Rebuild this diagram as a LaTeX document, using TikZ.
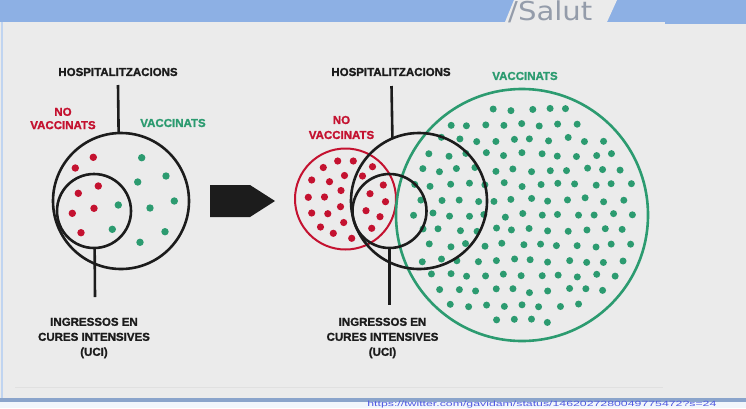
\documentclass[tikz,border=0pt]{standalone}
\usepackage{fontspec}
\setmainfont{Liberation Sans}
\newfontfamily\salutfont{DejaVu Sans}
\newfontfamily\heavyfont{Liberation Sans}[BoldFeatures={FakeBold=1.3}]
\definecolor{bandblue}{RGB}{141,176,228}
\definecolor{panel}{RGB}{235,235,235}
\definecolor{vred}{RGB}{196,18,48}
\definecolor{vgreen}{RGB}{44,155,112}
\definecolor{ink}{RGB}{28,28,28}
\definecolor{salutgray}{RGB}{148,156,170}
\definecolor{urlblue}{RGB}{80,90,225}
\begin{document}
\begin{tikzpicture}[x=1pt,y=-1pt,
  lbl/.style={font=\heavyfont\fontsize{11.5}{15}\selectfont\bfseries, text=ink, inner sep=0pt, align=center},
  ring/.style={circle, draw=ink, line width=2.6pt, inner sep=0pt, outer sep=0pt},
  conn/.style={draw=ink, line width=2.6pt},
  dotr/.style={fill=vred},
  dotg/.style={fill=vgreen}]
\useasboundingbox (0,0) rectangle (746,408);
% background
\fill[panel] (0,0) rectangle (746,408);
\fill[bandblue] (0,0) rectangle (746,22);
\fill[bandblue] (665,22) rectangle (746,23.5);
\fill[panel] (505,22) -- (514,0) -- (617,0) -- (607,22) -- cycle;
\node[text=salutgray, font=\salutfont\fontsize{26}{26}\selectfont, xscale=1.12, inner sep=0pt, anchor=base west] (salut) at (508,20.5) {/Salut};
\draw[bandblue!55, line width=1.2pt] (2,22) -- (2,399);
\draw[black!12, line width=0.8pt] (15,387) -- (663,387);
\fill[bandblue!75!gray] (0,398) rectangle (746,401.5);
\fill[bandblue!12] (0,401.5) rectangle (746,408);
\node[text=urlblue, font=\fontsize{7.5}{7.5}\selectfont, xscale=1.64, inner sep=0pt, anchor=base west] (url) at (367,406.4) {https://twitter.com/gavidam/status/1462027280049775472?s=24};

% ---------- left diagram ----------
\node[lbl] (hospL) at (118,72) {HOSPITALITZACIONS};
\node[lbl, text=vred, font=\heavyfont\fontsize{11.5}{13.3}\selectfont\bfseries] (noL) at (63,118.5) {NO\\VACCINATS};
\node[lbl, text=vgreen] (vacL) at (173,123) {VACCINATS};
\foreach \p in {(93.3,157.3),(75.3,168),(98.3,186),(78.3,193.3),(94,208.3),(72.3,213.3),(81,232.7)}
  \fill[dotr] \p circle (3.7pt);
\foreach \p in {(141.7,157.7),(166,176),(137.7,182),(174.3,201),(118.3,205),(150,208),(112.3,229.3),(165,231.7),(140,242.3)}
  \fill[dotg] \p circle (3.7pt);
\node[ring, minimum size=136pt] (bigL) at (121,201) {};
\node[ring, minimum size=74pt] (smallL) at (94,211) {};
\coordinate (hL) at (118,85);
\coordinate (uL) at (95,297);
\draw[conn] (hL) -- (bigL.92.5);
\draw[conn] (smallL.271.5) -- (uL);
\node[lbl] (uciL) at (94,338) {INGRESSOS EN\\CURES INTENSIVES\\(UCI)};

% ---------- arrow ----------
\fill[ink] (210,185) -- (250,185) -- (275,201) -- (250,217) -- (210,217) -- cycle;

% ---------- right diagram ----------
\node[lbl] (hospR) at (391,72) {HOSPITALITZACIONS};
\node[lbl, text=vred] (noR) at (341.5,127.5) {NO\\VACCINATS};
\node[lbl, text=vgreen] (vacR) at (525,76) {VACCINATS};
\foreach \p in {(337.7,161),(353.3,161),(323.3,167.5),(372.5,166.7),
  (311.7,180),(329.5,181.7),(344.5,175.5),(362.5,176),(383.3,185),(341,190.5),
  (308.3,197.3),(324.5,197),(370,193.7),(385.5,201.7),(340.5,206.7),(366,210.7),
  (311.7,213),(327.8,213.7),(380,216.7),(343.7,222.5),(320.5,227),(371.7,228.3),
  (333.3,233.3),(351.7,238.3)}
  \fill[dotr] \p circle (3.6pt);
\node[ring, draw=vred, line width=2pt, minimum size=101pt] (redC) at (345.5,199) {};
\pgfmathsetseed{4242}
\foreach \j in {-8,...,8}{
  \foreach \i in {-8,...,8}{
    \pgfmathsetmacro\px{\i*18.2 + mod(abs(\j),2)*9.1 + 2.2*rand}
    \pgfmathsetmacro\py{\j*15.1 + 2.2*rand}
    \pgfmathsetmacro\dd{veclen(\px,\py)}
    \ifdim\dd pt<115pt
      \fill[dotg] (522+\px,215+\py) circle (3.5pt);
    \fi
  }
}
\node[ring, draw=vgreen, line width=2.6pt, minimum size=252pt] (greenC) at (522,215) {};
\node[ring, minimum size=136pt] (bigR) at (419,201) {};
\node[ring, minimum size=74pt] (smallR) at (389.5,211) {};
\coordinate (hR) at (391.5,86);
\coordinate (uR) at (389.5,305);
\draw[conn] (hR) -- (bigR.113.8);
\draw[conn] (smallR.270) -- (uR);
\node[lbl] (uciR) at (382.5,338) {INGRESSOS EN\\CURES INTENSIVES\\(UCI)};
\end{tikzpicture}
\end{document}
